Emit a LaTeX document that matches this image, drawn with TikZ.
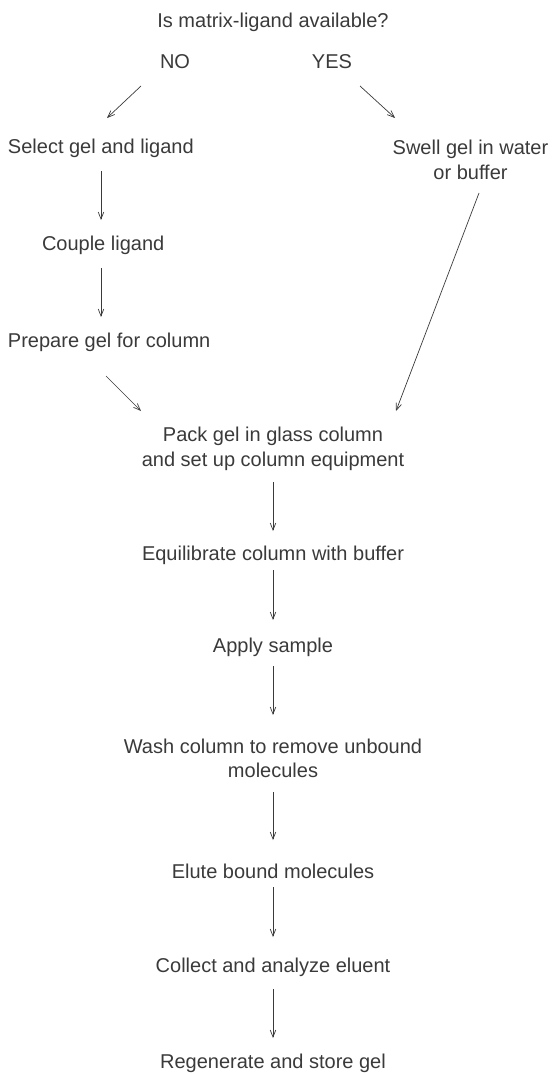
\documentclass[tikz,border=0pt]{standalone}
\usepackage{fontspec}
\setmainfont{Liberation Sans}
\usetikzlibrary{arrows.meta,calc}
\definecolor{ink}{HTML}{3A3A3A}
\begin{document}
\begin{tikzpicture}[x=1pt,y=-1pt,
  lbl/.style={inner sep=0pt,outer sep=0pt,text=ink,font=\fontsize{20}{24.5}\selectfont,align=center},
  arr/.style={draw=ink,line width=0.7pt,-{Straight Barb[length=7pt,width=5.5pt]}}]
\useasboundingbox (0,0) rectangle (553,1073);
\node[lbl,anchor=base] (title) at (273,28) {Is matrix-ligand available?};
\node[lbl,anchor=base] (no) at (175,68) {NO};
\node[lbl,anchor=base] (yes) at (332,68) {YES};
\node[lbl,anchor=base west] (sel) at (8,153) {Select gel and ligand};
\node[lbl,anchor=north] (swell) at (470.5,140.5) {Swell gel in water\\or buffer};
\node[lbl,anchor=base west] (cpl) at (42,250) {Couple ligand};
\node[lbl,anchor=base west] (prep) at (8,347) {Prepare gel for column};
\node[lbl,anchor=north] (pack) at (273,427.5) {Pack gel in glass column\\and set up column equipment};
\node[lbl,anchor=base] (equil) at (273,560) {Equilibrate column with buffer};
\node[lbl,anchor=base] (apply) at (273,652) {Apply sample};
\node[lbl,anchor=north] (wash) at (273,738.5) {Wash column to remove unbound\\molecules};
\node[lbl,anchor=base] (elute) at (273,878) {Elute bound molecules};
\node[lbl,anchor=base] (collect) at (273,972) {Collect and analyze eluent};
\node[lbl,anchor=base] (regen) at (273,1068) {Regenerate and store gel};
\draw[arr] ($(no.base)+(-34,18)$) -- ($(sel.base west)+(99,-35)$);
\draw[arr] ($(yes.base)+(28,18)$) -- ($(swell.north)+(-75.5,-22.5)$);
\draw[arr] ($(sel.base west)+(93,18)$) -- ($(cpl.base west)+(59,-30)$);
\draw[arr] ($(cpl.base west)+(59,18)$) -- ($(prep.base west)+(93,-30)$);
\draw[arr] ($(prep.base west)+(98,29)$) -- ($(pack.north)+(-132,-16.5)$);
\draw[arr] ($(swell.north)+(8.5,52.5)$) -- ($(pack.north)+(123,-16.5)$);
\draw[arr] ($(pack.north)+(0,54.5)$) -- ($(equil.base)+(0,-29)$);
\draw[arr] ($(equil.base)+(0,10)$) -- ($(apply.base)+(0,-32)$);
\draw[arr] ($(apply.base)+(0,14)$) -- ($(wash.north)+(0,-23.5)$);
\draw[arr] ($(wash.north)+(0,53.5)$) -- ($(elute.base)+(0,-38)$);
\draw[arr] ($(elute.base)+(0,9)$) -- ($(collect.base)+(0,-35)$);
\draw[arr] ($(collect.base)+(0,17)$) -- ($(regen.base)+(0,-30)$);
\end{tikzpicture}
\end{document}
